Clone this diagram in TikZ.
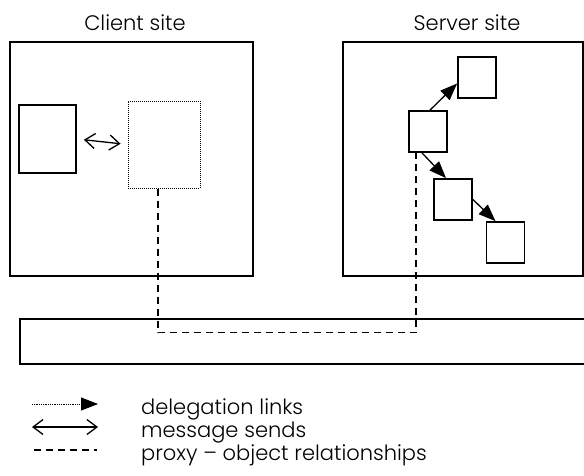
\documentclass[tikz,border=0pt]{standalone}
\usepackage{fontspec}
\setmainfont{Poppins Light}
\usetikzlibrary{arrows.meta}

\tikzset{
  sitebox/.style={draw,line width=1.8pt,minimum width=#1,inner sep=0pt},
  objbox/.style={draw,line width=1.8pt,minimum width=38pt,minimum height=41pt,inner sep=0pt},
  proxybox/.style={draw,densely dotted,line width=1pt,minimum width=72pt,minimum height=87pt,inner sep=0pt},
  deleg/.style={-{Triangle[length=17pt,width=13pt]},line width=1.3pt},
  msg/.style={{Straight Barb[length=10pt,width=15pt]}-{Straight Barb[length=10pt,width=15pt]},line width=1.3pt},
  proxyrel/.style={dash pattern=on 7pt off 5pt,line width=1.5pt},
  lbl/.style={font=\fontsize{21}{25}\selectfont,inner sep=0pt}
}

\begin{document}
\begin{tikzpicture}[x=1pt,y=-1pt]
\useasboundingbox (0,0) rectangle (584,475);
\node[lbl] (ct) at (135,23) {Client site};
\node[lbl] (st) at (467,23) {Server site};
\node[sitebox=243pt,minimum height=234pt] (client) at (131.5,159) {};
\node[sitebox=240pt,minimum height=234pt] (server) at (463,159) {};
\node[objbox,minimum width=57pt,minimum height=68pt] (a) at (47.5,139) {};
\node[proxybox] (p) at (164,144.5) {};
\node[objbox] (s0) at (477,77.5) {};
\node[objbox] (s1) at (428,131.5) {};
\node[objbox] (s2) at (453,199.5) {};
\node[objbox] (s3) at (505.5,242.5) {};
\node[sitebox=600pt,minimum height=45pt,anchor=north west] (bar) at (19,318) {};
\draw[msg,shorten <=7pt,shorten >=7pt] (a.east) -- (p.west);
\draw[deleg] ([xshift=2pt]s1.north) -- ([yshift=-6pt]s0.west);
\draw[deleg] ([xshift=-6pt]s1.south) -- ([xshift=-7pt]s2.north);
\draw[deleg] (s2.east) -- ([xshift=-10pt]s3.north);
\draw[proxyrel] ([xshift=-6pt]p.south) -- ++(0,144) -| ([xshift=8pt]s1.south west);
% legend
\coordinate (l1a) at (32,404);
\coordinate (l1b) at (98,404);
\coordinate (l2a) at (32,427);
\coordinate (l2b) at (98,427);
\coordinate (l3a) at (34,450);
\coordinate (l3b) at (97,450);
\draw[deleg,line width=0.8pt,densely dotted] (l1a) -- (l1b);
\draw[msg] (l2a) -- (l2b);
\draw[proxyrel] (l3a) -- (l3b);
\node[lbl,anchor=base west] (t1) at (141,414) {delegation links};
\node[lbl,anchor=base west] (t2) at (141,437) {message sends};
\node[lbl,anchor=base west] (t3) at (141,460) {proxy -- object relationships};
\end{tikzpicture}
\end{document}
